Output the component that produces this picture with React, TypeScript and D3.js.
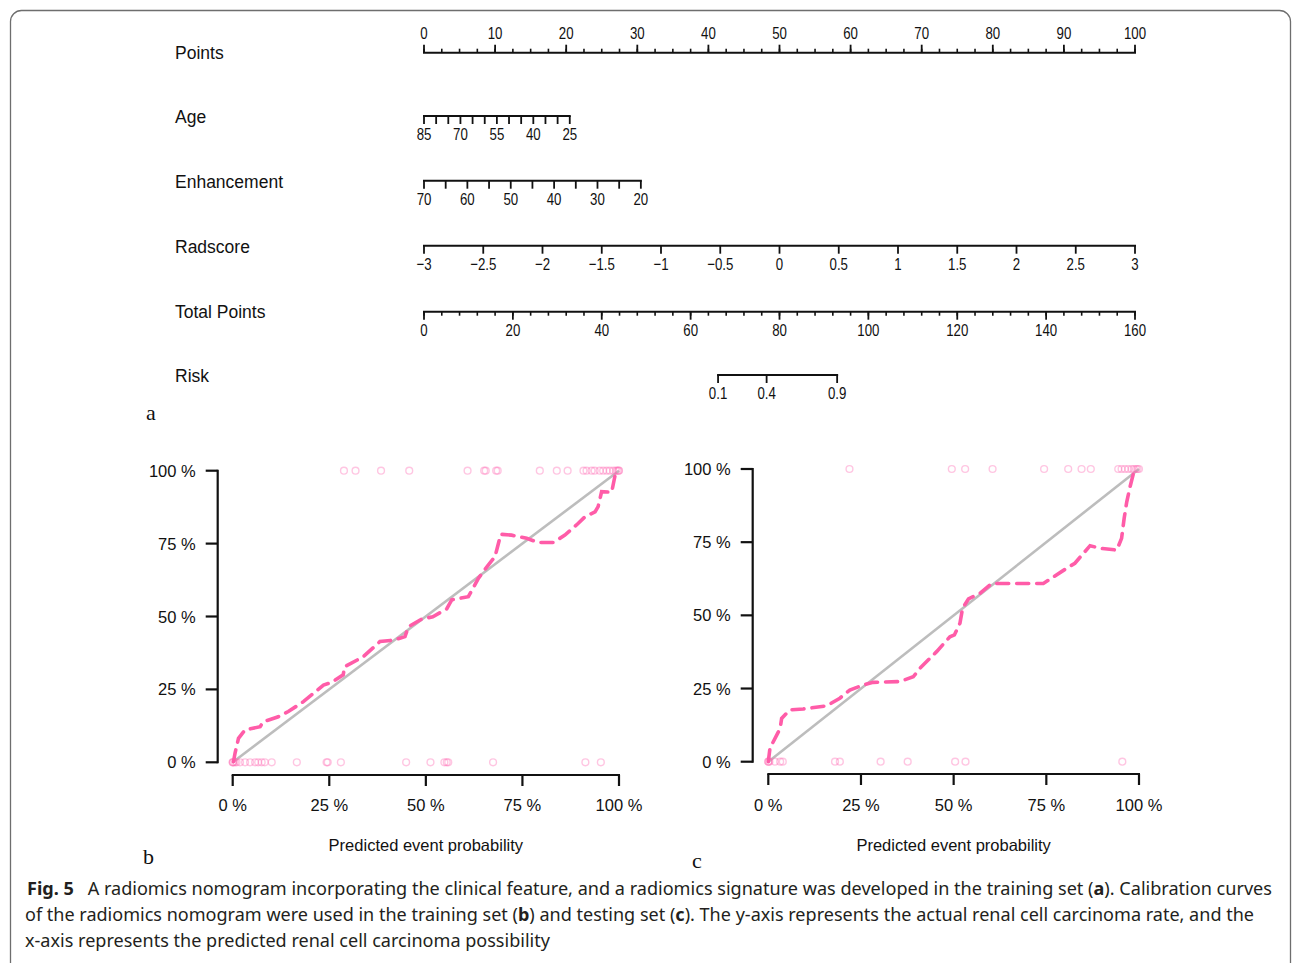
import React, { useEffect } from 'react';
import * as d3 from 'd3';

// ---- nomogram (panel a) ----
const nomoLabels = ['Points', 'Age', 'Enhancement', 'Radscore', 'Total Points', 'Risk'];
const pointsLabels = [0, 10, 20, 30, 40, 50, 60, 70, 80, 90, 100];
const ageLabels = [85, 70, 55, 40, 25];
const ageMaxPoints = 20.5;
const enhLabels = [70, 60, 50, 40, 30, 20];
const enhMaxPoints = 30.5;
const radLabels = [-3, -2.5, -2, -1.5, -1, -0.5, 0, 0.5, 1, 1.5, 2, 2.5, 3];
const totalLabels = [0, 20, 40, 60, 80, 100, 120, 140, 160];
const riskLabels = [0.1, 0.4, 0.9];
const riskIntercept = -13.05;
const riskSlope = 0.164;

// ---- calibration, training set (panel b) ----
const trainPred = [0.002, 0.006, 0.015, 0.032, 0.071, 0.079, 0.118, 0.144, 0.183, 0.235, 0.256, 0.286, 0.29, 0.338, 0.381, 0.416, 0.446, 0.455, 0.489, 0.518, 0.554, 0.567, 0.61, 0.623, 0.636, 0.662, 0.679, 0.688, 0.694, 0.722, 0.761, 0.791, 0.83, 0.86, 0.89, 0.912, 0.938, 0.946, 0.955, 0.981, 0.99, 0.998];
const trainObs = [0.002, 0.031, 0.082, 0.111, 0.122, 0.139, 0.156, 0.174, 0.208, 0.265, 0.274, 0.3, 0.328, 0.362, 0.414, 0.419, 0.431, 0.465, 0.491, 0.499, 0.526, 0.557, 0.568, 0.599, 0.631, 0.677, 0.705, 0.751, 0.782, 0.779, 0.768, 0.754, 0.754, 0.779, 0.814, 0.842, 0.859, 0.877, 0.928, 0.926, 0.985, 1.0];
const trainEvents = [0.288, 0.318, 0.384, 0.457, 0.608, 0.651, 0.655, 0.682, 0.686, 0.795, 0.839, 0.867, 0.908, 0.916, 0.929, 0.937, 0.95, 0.959, 0.968, 0.976, 0.985, 0.992, 0.996, 0.999, 1.0];
const trainNonEvents = [0.0, 0.0, 0.002, 0.006, 0.01, 0.019, 0.032, 0.045, 0.058, 0.066, 0.075, 0.083, 0.101, 0.166, 0.243, 0.246, 0.28, 0.449, 0.512, 0.548, 0.554, 0.558, 0.674, 0.913, 0.953];

// ---- calibration, testing set (panel c) ----
const testPred = [0, 0.0045, 0.032, 0.036, 0.058, 0.094, 0.158, 0.193, 0.22, 0.256, 0.283, 0.355, 0.391, 0.409, 0.454, 0.49, 0.502, 0.517, 0.524, 0.54, 0.571, 0.603, 0.634, 0.742, 0.764, 0.805, 0.827, 0.868, 0.895, 0.94, 0.953, 0.96, 0.967, 0.976, 0.985, 0.99];
const testObs = [0, 0.046, 0.114, 0.148, 0.177, 0.18, 0.191, 0.217, 0.245, 0.262, 0.271, 0.274, 0.29, 0.319, 0.376, 0.427, 0.433, 0.473, 0.524, 0.556, 0.575, 0.609, 0.609, 0.609, 0.627, 0.661, 0.678, 0.738, 0.729, 0.723, 0.763, 0.832, 0.888, 0.94, 0.985, 1.0];
const testEvents = [0.219, 0.495, 0.531, 0.605, 0.744, 0.809, 0.845, 0.87, 0.944, 0.953, 0.962, 0.971, 0.98, 0.986, 0.992, 0.996, 1.0];
const testNonEvents = [0, 0, 0.003, 0.018, 0.032, 0.039, 0.18, 0.193, 0.303, 0.376, 0.504, 0.532, 0.955];

const pctTicks = [0, 0.25, 0.5, 0.75, 1];

const W = 1293;
const H = 963;
const SANS = 'Arial, "Liberation Sans", sans-serif';
const SERIF = '"Liberation Serif", "Times New Roman", serif';
const PINK = '#ff5ca8';

const fmtNum = (v: number) => (v < 0 ? '\u2212' + String(Math.abs(v)) : String(v));

function NomoAxis({ scale, major, minor, labels, y, up = false }: any) {
  const dir = up ? -1 : 1;
  const [a, b] = scale.range();
  return (
    <g>
      <line x1={Math.min(a, b) - 1} x2={Math.max(a, b) + 1} y1={y} y2={y} stroke="#111" strokeWidth={2} />
      {minor.map((v: number, i: number) => (
        <line key={'m' + i} x1={scale(v)} x2={scale(v)} y1={y} y2={y + dir * 4} stroke="#111" strokeWidth={1.6} />
      ))}
      {major.map((v: number, i: number) => (
        <line key={'M' + i} x1={scale(v)} x2={scale(v)} y1={y} y2={y + dir * 8} stroke="#111" strokeWidth={1.8} />
      ))}
      {labels.map((v: number, i: number) => (
        <text
          key={'l' + i}
          transform={`translate(${scale(v)},${up ? y - 14 : y + 24}) scale(0.78,1)`}
          textAnchor="middle"
          fontSize={17}
          fontFamily={SANS}
          fill="#111"
        >
          {fmtNum(v)}
        </text>
      ))}
    </g>
  );
}

function Nomogram() {
  const pts = d3.scaleLinear().domain([0, 100]).range([424, 1135]);
  const age = d3.scaleLinear().domain([85, 25]).range([pts(0), pts(ageMaxPoints)]);
  const enh = d3.scaleLinear().domain([70, 20]).range([pts(0), pts(enhMaxPoints)]);
  const rad = d3.scaleLinear().domain([-3, 3]).range([pts(0), pts(100)]);
  const total = d3.scaleLinear().domain([0, 160]).range([424, 1135]);
  const logit = (p: number) => Math.log(p / (1 - p));
  const riskPos = (p: number) => total((logit(p) - riskIntercept) / riskSlope);
  const risk: any = (p: number) => riskPos(p);
  risk.range = () => [riskPos(riskLabels[0]), riskPos(riskLabels[riskLabels.length - 1])];

  const axisY = [52.7, 116, 180.7, 245.7, 311.7, 375];
  const labelY = [58.5, 123, 188, 252.5, 318, 382];

  return (
    <g>
      {nomoLabels.map((l, i) => (
        <text key={l} x={175} y={labelY[i]} fontSize={17.5} fontFamily={SANS} fill="#111">
          {l}
        </text>
      ))}
      <NomoAxis scale={pts} major={pointsLabels} minor={d3.range(0, 100.1, 2.5)} labels={pointsLabels} y={axisY[0]} up />
      <NomoAxis scale={age} major={d3.range(85, 24.9, -5)} minor={[]} labels={ageLabels} y={axisY[1]} />
      <NomoAxis scale={enh} major={d3.range(70, 19.9, -5)} minor={[]} labels={enhLabels} y={axisY[2]} />
      <NomoAxis scale={rad} major={radLabels} minor={[]} labels={radLabels} y={axisY[3]} />
      <NomoAxis scale={total} major={totalLabels} minor={d3.range(0, 160.1, 4)} labels={totalLabels} y={axisY[4]} />
      <NomoAxis scale={risk} major={riskLabels} minor={[]} labels={riskLabels} y={axisY[5]} />
      <text x={146} y={420} fontSize={22} fontFamily={SERIF} fill="#111">
        a
      </text>
    </g>
  );
}

function Calibration({ xr, yr, yAxisX, xAxisY, pred, obs, events, nonEvents, tag, tagX, tagY }: any) {
  const x = d3.scaleLinear().domain([0, 1]).range(xr);
  const y = d3.scaleLinear().domain([0, 1]).range(yr);
  const line = d3
    .line<number>()
    .x((_, i) => x(pred[i]))
    .y((_, i) => y(obs[i]));
  const mid = (xr[0] + xr[1]) / 2;
  return (
    <g fontFamily={SANS} fill="#111">
      {/* ideal line */}
      <line x1={x(0)} y1={y(0)} x2={x(1)} y2={y(1)} stroke="#bdbdbd" strokeWidth={2.6} />
      {/* rug of outcomes */}
      {nonEvents.map((v: number, i: number) => (
        <circle key={'n' + i} cx={x(v)} cy={y(0)} r={3.4} fill="none" stroke="#ff69b4" strokeOpacity={0.38} strokeWidth={1.4} />
      ))}
      {events.map((v: number, i: number) => (
        <circle key={'e' + i} cx={x(v)} cy={y(1)} r={3.4} fill="none" stroke="#ff69b4" strokeOpacity={0.38} strokeWidth={1.4} />
      ))}
      {/* apparent calibration */}
      <path d={line(pred) || ''} fill="none" stroke={PINK} strokeWidth={3.6} strokeDasharray="12 8" strokeLinecap="round" />
      {/* y axis */}
      <line x1={yAxisX} x2={yAxisX} y1={y(0) + 1} y2={y(1) - 1} stroke="#111" strokeWidth={2.2} />
      {pctTicks.map((t) => (
        <g key={'y' + t}>
          <line x1={yAxisX - 12} x2={yAxisX} y1={y(t)} y2={y(t)} stroke="#111" strokeWidth={2.2} />
          <text x={yAxisX - 22} y={y(t) + 6} textAnchor="end" fontSize={16.5}>
            {`${t * 100} %`}
          </text>
        </g>
      ))}
      {/* x axis */}
      <line x1={x(0) - 1} x2={x(1) + 1} y1={xAxisY} y2={xAxisY} stroke="#111" strokeWidth={2.2} />
      {pctTicks.map((t) => (
        <g key={'x' + t}>
          <line x1={x(t)} x2={x(t)} y1={xAxisY} y2={xAxisY + 11} stroke="#111" strokeWidth={2.2} />
          <text x={x(t)} y={811} textAnchor="middle" fontSize={16.5}>
            {`${t * 100} %`}
          </text>
        </g>
      ))}
      <text x={mid} y={851} textAnchor="middle" fontSize={16.5}>
        Predicted event probability
      </text>
      <text x={tagX} y={tagY} fontSize={22} fontFamily={SERIF}>
        {tag}
      </text>
    </g>
  );
}

function Caption() {
  const common = { fontFamily: '"Noto Sans", "Open Sans", sans-serif', fontSize: 17.5, fill: '#231f20', lengthAdjust: 'spacingAndGlyphs' as const };
  return (
    <g>
      <text x={27} y={895} textLength={1245} {...common}>
        <tspan fontWeight="bold">Fig. 5</tspan>
        {'\u2002 A radiomics nomogram incorporating the clinical feature, and a radiomics signature was developed in the training set ('}
        <tspan fontWeight="bold">a</tspan>
        {'). Calibration curves'}
      </text>
      <text x={25} y={921} textLength={1229} {...common}>
        {'of the radiomics nomogram were used in the training set ('}
        <tspan fontWeight="bold">b</tspan>
        {') and testing set ('}
        <tspan fontWeight="bold">c</tspan>
        {'). The y-axis represents the actual renal cell carcinoma rate, and the'}
      </text>
      <text x={25} y={947} textLength={525} {...common}>
        x-axis represents the predicted renal cell carcinoma possibility
      </text>
    </g>
  );
}

export default function App() {
  useEffect(() => {
    document.body.style.margin = '0';
  }, []);

  return (
    <svg width={W} height={H} style={{ position: 'absolute', left: 0, top: 0, background: '#fff' }}>
      <rect x={0} y={0} width={W} height={H} fill="#fff" />
      <rect x={10.5} y={10.5} width={1280} height={1000} rx={11} fill="none" stroke="#6e6e6e" strokeWidth={1.3} />
      <Nomogram />
      <Calibration
        xr={[232.7, 619]}
        yr={[762.3, 470.7]}
        yAxisX={217.7}
        xAxisY={775}
        pred={trainPred}
        obs={trainObs}
        events={trainEvents}
        nonEvents={trainNonEvents}
        tag="b"
        tagX={143}
        tagY={864}
      />
      <Calibration
        xr={[768.3, 1139]}
        yr={[761.7, 469]}
        yAxisX={752.7}
        xAxisY={774}
        pred={testPred}
        obs={testObs}
        events={testEvents}
        nonEvents={testNonEvents}
        tag="c"
        tagX={692}
        tagY={868}
      />
      <Caption />
    </svg>
  );
}
